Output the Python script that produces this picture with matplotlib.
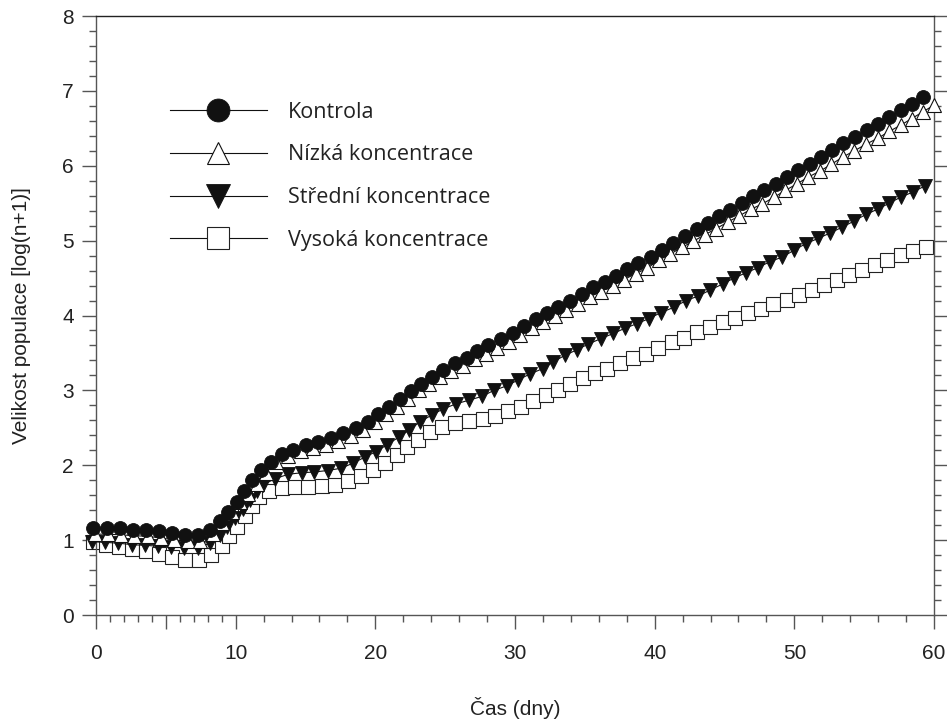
import matplotlib
matplotlib.use("Agg")
import matplotlib.pyplot as plt

plt.rcParams['font.family'] = ['Liberation Sans', 'DejaVu Sans']

# values, one pair per marker
kontrola_x = [-0.19, 0.76, 1.72, 2.67, 3.58, 4.51, 5.46, 6.37, 7.33, 8.16, 8.88, 9.47, 10.07,
              10.62, 11.19, 11.79, 12.50, 13.29, 14.12, 15.01, 15.91, 16.82, 17.70, 18.59, 19.45, 20.16,
              21.0, 21.76, 22.53, 23.24, 24.03, 24.85, 25.70, 26.53, 27.29, 28.08, 28.97, 29.83,
              30.64, 31.47, 32.31, 33.09, 33.93, 34.77, 35.55, 36.44, 37.22, 37.99, 38.82, 39.7,
              40.5, 41.33, 42.16, 43.0, 43.79, 44.62, 45.38, 46.22, 47.01, 47.84, 48.65, 49.44,
              50.27, 51.11, 51.90, 52.73, 53.49, 54.33, 55.17, 56.0, 56.79, 57.60, 58.44, 59.23]
kontrola_y = [1.16, 1.16, 1.16, 1.14, 1.13, 1.12, 1.09, 1.07, 1.07, 1.13, 1.25, 1.38, 1.51,
              1.66, 1.80, 1.94, 2.05, 2.15, 2.21, 2.27, 2.31, 2.37, 2.43, 2.50, 2.58, 2.68,
              2.78, 2.88, 2.99, 3.09, 3.18, 3.27, 3.36, 3.43, 3.52, 3.60, 3.69, 3.77,
              3.86, 3.95, 4.03, 4.12, 4.20, 4.29, 4.38, 4.45, 4.53, 4.62, 4.70, 4.78,
              4.88, 4.97, 5.06, 5.15, 5.24, 5.33, 5.41, 5.50, 5.59, 5.67, 5.76, 5.85,
              5.94, 6.03, 6.12, 6.21, 6.30, 6.39, 6.48, 6.56, 6.65, 6.74, 6.83, 6.92]

nizka_x = [-0.1, 0.85, 1.8, 2.75, 3.7, 4.65, 5.6, 6.55, 7.45, 8.35,
           9.05, 9.7, 10.3, 10.9, 11.5, 12.15, 12.9, 13.75, 14.65, 15.55, 16.45, 17.35, 18.25, 19.1, 19.95,
           20.75, 21.55, 22.35, 23.1, 23.85, 24.65, 25.45, 26.25, 27.1, 27.9, 28.7, 29.55,
           30.35, 31.2, 32.0, 32.85, 33.65, 34.5, 35.35, 36.15, 37.0, 37.8, 38.65, 39.45,
           40.3, 41.1, 41.95, 42.75, 43.6, 44.4, 45.25, 46.05, 46.9, 47.7, 48.55, 49.35,
           50.2, 51.0, 51.85, 52.65, 53.5, 54.3, 55.15, 56.0, 56.8, 57.6, 58.4, 59.2, 60.0]
nizka_y = [1.08, 1.08, 1.07, 1.06, 1.05, 1.03, 1.00, 0.99, 0.99, 1.08,
           1.23, 1.37, 1.51, 1.61, 1.75, 1.90, 2.04, 2.12, 2.19, 2.23, 2.27, 2.33, 2.39, 2.47, 2.58,
           2.69, 2.78, 2.89, 3.00, 3.09, 3.18, 3.26, 3.33, 3.42, 3.49, 3.56, 3.65,
           3.74, 3.83, 3.91, 3.99, 4.08, 4.16, 4.25, 4.32, 4.40, 4.48, 4.56, 4.63,
           4.74, 4.82, 4.91, 4.99, 5.08, 5.16, 5.25, 5.33, 5.42, 5.49, 5.58, 5.67,
           5.76, 5.85, 5.93, 6.02, 6.12, 6.20, 6.29, 6.37, 6.46, 6.54, 6.63, 6.72, 6.81]

stredni_x = [-0.31, 0.64, 1.60, 2.55, 3.51, 4.41, 5.37, 6.32, 7.28, 8.16, 8.88, 9.40, 9.95,
             10.50, 11.05, 11.55, 11.98, 12.81, 13.76, 14.72, 15.62, 16.58, 17.54, 18.42, 19.26, 20.02,
             20.81, 21.71, 22.43, 23.19, 24.03, 24.82, 25.77, 26.72, 27.63, 28.49, 29.40, 30.23,
             31.07, 31.98, 32.74, 33.58, 34.41, 35.25, 36.13, 37.03, 37.87, 38.71, 39.6, 40.45,
             41.38, 42.24, 43.12, 43.96, 44.86, 45.67, 46.53, 47.41, 48.25, 49.13, 49.96,
             50.82, 51.70, 52.54, 53.42, 54.26, 55.12, 55.96, 56.79, 57.60, 58.50, 59.34]
stredni_y = [0.98, 0.97, 0.96, 0.94, 0.93, 0.92, 0.91, 0.90, 0.90, 0.96, 1.07, 1.18, 1.30,
             1.42, 1.54, 1.65, 1.74, 1.82, 1.88, 1.90, 1.91, 1.93, 1.96, 2.03, 2.11, 2.18,
             2.27, 2.38, 2.47, 2.58, 2.67, 2.75, 2.82, 2.87, 2.92, 3.00, 3.06, 3.14,
             3.22, 3.29, 3.38, 3.47, 3.54, 3.62, 3.69, 3.76, 3.83, 3.89, 3.96, 4.04,
             4.11, 4.20, 4.26, 4.34, 4.42, 4.50, 4.57, 4.64, 4.72, 4.78, 4.87,
             4.96, 5.03, 5.10, 5.18, 5.26, 5.35, 5.42, 5.50, 5.58, 5.65, 5.73]

vysoka_x = [-0.25, 0.70, 1.65, 2.60, 3.55, 4.50, 5.45, 6.40, 7.35, 8.25, 9.0, 9.55, 10.10,
            10.65, 11.15, 11.70, 12.35, 13.29, 14.24, 15.15, 16.16, 17.11, 18.06, 18.96, 19.85,
            20.69, 21.52, 22.28, 23.07, 23.91, 24.75, 25.70, 26.70, 27.68, 28.56, 29.47, 30.40,
            31.30, 32.21, 33.09, 33.93, 34.84, 35.72, 36.60, 37.51, 38.46, 39.37, 40.25,
            41.21, 42.11, 43.04, 43.95, 44.86, 45.74, 46.69, 47.60, 48.48, 49.44, 50.32,
            51.23, 52.11, 53.02, 53.92, 54.85, 55.76, 56.64, 57.60, 58.50, 59.41]
vysoka_y = [0.97, 0.93, 0.91, 0.88, 0.85, 0.81, 0.77, 0.74, 0.74, 0.80, 0.92, 1.05, 1.18,
            1.32, 1.45, 1.57, 1.65, 1.70, 1.71, 1.71, 1.72, 1.74, 1.79, 1.86, 1.94,
            2.03, 2.14, 2.25, 2.34, 2.44, 2.51, 2.56, 2.59, 2.62, 2.66, 2.72, 2.78,
            2.86, 2.94, 3.00, 3.09, 3.16, 3.23, 3.29, 3.36, 3.43, 3.49, 3.56,
            3.64, 3.70, 3.78, 3.85, 3.91, 3.97, 4.03, 4.09, 4.15, 4.21, 4.28,
            4.34, 4.41, 4.47, 4.54, 4.61, 4.67, 4.74, 4.81, 4.86, 4.92]

labels = ["Kontrola", "Nízká koncentrace", "Střední koncentrace", "Vysoká koncentrace"]

fig = plt.figure(figsize=(9.47, 7.28), dpi=100)
ax = fig.add_axes([0.1014, 0.1552, 0.8849, 0.8228])

ink = '#111111'
axc = '#555555'

ax.plot(kontrola_x, kontrola_y, color=ink, lw=0.8, marker='o', ms=10.0,
        mfc=ink, mec=ink, mew=0.6, clip_on=False, zorder=5, label=labels[0])
ax.plot(nizka_x, nizka_y, color=ink, lw=0.8, marker='^', ms=10.0,
        mfc='white', mec=ink, mew=0.8, clip_on=False, zorder=4, label=labels[1])
ax.plot(stredni_x, stredni_y, color=ink, lw=0.8, marker='v', ms=10.2,
        mfc=ink, mec=ink, mew=0.6, clip_on=False, zorder=3, label=labels[2])
ax.plot(vysoka_x, vysoka_y, color=ink, lw=0.8, marker='s', ms=9.4,
        mfc='white', mec='#222222', mew=0.8, clip_on=False, zorder=2, label=labels[3])

ax.set_xlim(0, 60)
ax.set_ylim(0, 8)

ax.set_xticks([0, 5, 10, 20, 30, 40, 50, 60])
ax.set_xticklabels(['0', '', '10', '20', '30', '40', '50', '60'])
ax.set_xticks([1, 2, 3, 4, 6, 7, 8, 9] + [v for v in range(12, 60, 2) if v % 10], minor=True)
ax.set_yticks(range(0, 9))
ax.set_yticks([v / 5 for v in range(0, 41) if v % 5], minor=True)

ax.tick_params(which='major', length=10, width=1, color=axc, labelsize=15,
               labelcolor='#222222', right=True, top=False)
ax.tick_params(which='minor', length=5, width=1, color=axc, right=True, top=False)
ax.tick_params(axis='x', which='major', pad=11)
ax.tick_params(axis='y', which='major', pad=6)

for side in ['left', 'right', 'bottom']:
    ax.spines[side].set_color(axc)
    ax.spines[side].set_linewidth(1)
ax.spines['top'].set_color('#222222')
ax.spines['top'].set_linewidth(1)

ax.set_xlabel('Čas (dny)', fontsize=15, color='#222222', labelpad=24)
ax.set_ylabel('Velikost populace [log(n+1)]', fontsize=15, color='#222222', labelpad=22)

leg = ax.legend(loc='upper left', bbox_to_anchor=(0.088, 0.857), frameon=False,
                handlelength=4.5, handletextpad=1.0, labelspacing=1.01,
                borderpad=0, borderaxespad=0, numpoints=1, markerscale=1.65,
                prop={'family': 'Open Sans', 'size': 15.5})
for t in leg.get_texts():
    t.set_color('#222222')

fig.savefig('out.png', dpi=100)
